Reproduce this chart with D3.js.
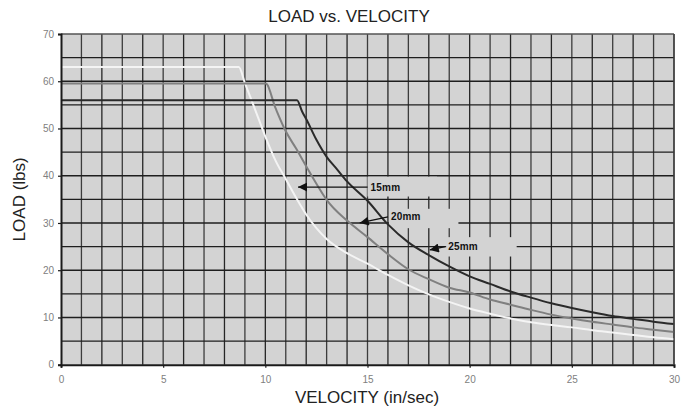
<!DOCTYPE html>
<html><head><meta charset="utf-8">
<script src="https://cdn.jsdelivr.net/npm/d3@7"></script>
<style>body{margin:0;background:#fff;}svg{display:block;font-family:"Liberation Sans",Arial,sans-serif;}</style>
</head><body>
<svg id="c" width="685" height="411"></svg>
<script>
// ---- data ----
const xTicks = [0, 5, 10, 15, 20, 25, 30];
const yTicks = [0, 10, 20, 30, 40, 50, 60, 70];

const v15 = [0, 8.7, 9, 9.5, 10, 10.5, 11, 11.5, 12, 12.5, 13, 14, 15, 16, 17, 18, 19, 20, 21, 22, 23, 24, 25, 26, 27, 28, 29, 30];
const load15 = [63, 63, 59.6, 54, 48.3, 43.2, 39.3, 35.4, 31.8, 28.9, 26.6, 23.6, 21.4, 19.0, 16.8, 14.9, 13.3, 11.9, 10.8, 9.8, 9.0, 8.4, 7.9, 7.3, 6.8, 6.3, 5.8, 5.4];

const v20 = [0, 10.02, 10.5, 11, 11.5, 12, 12.5, 13, 14, 15, 16, 17, 18, 19, 20, 21, 22, 23, 24, 25, 26, 27, 28, 29, 30];
const load20 = [59.5, 59.5, 54.3, 49.4, 45.8, 42.0, 38.3, 34.9, 30.5, 27.0, 23.4, 20.2, 18.1, 16.3, 15.3, 13.8, 12.7, 11.6, 10.6, 9.8, 9.1, 8.5, 7.9, 7.4, 6.9];

const v25 = [0, 11.55, 11.8, 12, 12.5, 13, 13.5, 14, 15, 16, 17, 18, 19, 20, 21, 22, 23, 24, 25, 26, 27, 28, 29, 30];
const load25 = [56, 56, 53.6, 52.0, 47.6, 44.0, 41.4, 38.8, 34.7, 29.7, 25.9, 23.2, 20.8, 18.7, 17.1, 15.5, 14.2, 13.0, 12.0, 11.1, 10.3, 9.7, 9.1, 8.6];

const seriesNames = ["15mm", "20mm", "25mm"];
// arrow tip [velocity, load] and text start [velocity, load]
const labelTip = [[11.6, 37.6], [14.62, 30.0], [18.05, 24.3]];
const labelText = [[15.15, 37.6], [16.15, 31.3], [18.95, 25.0]];

// ---- layout ----
const svg = d3.select("#c");
const L = 61, R = 674, T = 34, B = 364.7;
const x = d3.scaleLinear().domain([0, 30]).range([L, R]);
const y = d3.scaleLinear().domain([0, 70]).range([B, T]);
const BG = "#d3d3d3";

svg.append("rect").attr("x", L).attr("y", T).attr("width", R - L).attr("height", B - T).attr("fill", BG);

const grid = svg.append("g");
grid.selectAll("line.v").data(d3.range(1, 31)).join("line")
  .attr("x1", d => x(d)).attr("x2", d => x(d)).attr("y1", T).attr("y2", B)
  .attr("stroke", (d, i) => i % 2 ? "#262626" : "#3c3c3c").attr("stroke-width", 1.3);
grid.selectAll("line.h").data(d3.range(5, 71, 5)).join("line")
  .attr("x1", L).attr("x2", R).attr("y1", d => y(d)).attr("y2", d => y(d))
  .attr("stroke", d => d === 70 ? "#555" : "#1e1e1e").attr("stroke-width", 1.4);

// label background boxes hide grid
const boxes = [[15.0, 39.8, 18.4, 35.6], [16.05, 33.0, 19.45, 28.9], [18.85, 27.0, 22.3, 22.9]];
svg.append("g").selectAll("rect").data(boxes).join("rect")
  .attr("x", d => x(d[0])).attr("y", d => y(d[1]))
  .attr("width", d => x(d[2]) - x(d[0])).attr("height", d => y(d[3]) - y(d[1]))
  .attr("fill", BG);

// curves
const series = [
  {v: v15, l: load15, color: "#f4f4f4"},
  {v: v20, l: load20, color: "#808080"},
  {v: v25, l: load25, color: "#2a2a2a"}
];
const line = d3.line().x(d => x(d[0])).y(d => y(d[1])).curve(d3.curveMonotoneX);
series.forEach(s => {
  svg.append("path").datum(s.v.map((v, i) => [v, s.l[i]]))
    .attr("d", line).attr("fill", "none").attr("stroke", s.color).attr("stroke-width", 2);
});

// axes
const xAxis = svg.append("g").attr("transform", `translate(0,${B})`)
  .call(d3.axisBottom(x).tickValues(xTicks).tickSize(3).tickPadding(8));
const yAxis = svg.append("g").attr("transform", `translate(${L},0)`)
  .call(d3.axisLeft(y).tickValues(yTicks).tickSize(3).tickPadding(4));
[xAxis, yAxis].forEach(a => {
  a.select(".domain").attr("stroke", "#1a1a1a").attr("stroke-width", 2);
  a.selectAll(".tick line").attr("stroke", "#1a1a1a").attr("stroke-width", 1.2);
  a.selectAll(".tick text").attr("fill", "#808080").attr("font-size", 10)
    .attr("font-family", '"Liberation Sans",Arial,sans-serif');
});
svg.append("line").attr("x1", x(30)).attr("x2", x(30)).attr("y1", T).attr("y2", B)
  .attr("stroke", "#444").attr("stroke-width", 1.3);

// labels with arrows
const defs = svg.append("defs");
defs.append("marker").attr("id", "ah").attr("viewBox", "0 0 10 10").attr("refX", 10).attr("refY", 5)
  .attr("markerWidth", 11).attr("markerHeight", 9).attr("markerUnits", "userSpaceOnUse")
  .attr("orient", "auto")
  .append("path").attr("d", "M0,0 L10,5 L0,10 z").attr("fill", "#111");

seriesNames.forEach((name, i) => {
  const tx = x(labelText[i][0]), ty = y(labelText[i][1]);
  svg.append("line").attr("x1", tx - 3).attr("y1", ty)
    .attr("x2", x(labelTip[i][0])).attr("y2", y(labelTip[i][1]))
    .attr("stroke", "#111").attr("stroke-width", 1.3).attr("marker-end", "url(#ah)");
  svg.append("text").attr("x", tx).attr("y", ty + 3.6).attr("font-size", 10)
    .attr("font-weight", "bold").attr("fill", "#111").attr("letter-spacing", 0.2).text(name);
});

// titles
svg.append("text").attr("x", 349).attr("y", 22).attr("text-anchor", "middle")
  .attr("font-size", 17).attr("fill", "#222").text("LOAD vs. VELOCITY");
svg.append("text").attr("x", 367).attr("y", 403).attr("text-anchor", "middle")
  .attr("font-size", 17).attr("fill", "#222").text("VELOCITY  (in/sec)");
svg.append("text").attr("transform", `translate(25,${(T + B) / 2}) rotate(-90)`).attr("text-anchor", "middle")
  .attr("font-size", 17).attr("fill", "#222").text("LOAD  (lbs)");
</script>
</body></html>
